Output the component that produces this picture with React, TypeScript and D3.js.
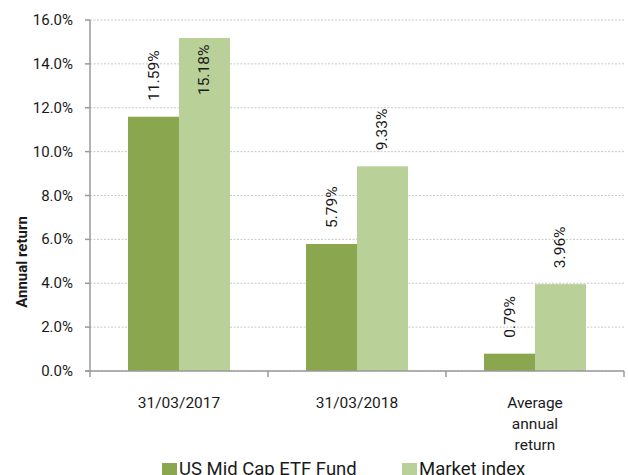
import React from "react";
import * as d3 from "d3";

const categories = ["31/03/2017", "31/03/2018", "Average annual return"];
const categoryLines = [["31/03/2017"], ["31/03/2018"], ["Average", "annual", "return"]];
const seriesNames = ["US Mid Cap ETF Fund", "Market index"];
const fundValues = [11.59, 5.79, 0.79];
const indexValues = [15.18, 9.33, 3.96];
const yTicks = [0, 2, 4, 6, 8, 10, 12, 14, 16];
const colors = ["#8aa64e", "#b9d098"];

const W = 628;
const H = 475;
const left = 90;
const right = 624;
const top = 20;
const bottom = 371;
const font = "Roboto, 'Liberation Sans', Arial, sans-serif";

export default function App() {
  const x = d3.scaleBand<string>().domain(categories).range([left, right]).paddingInner(0).paddingOuter(0);
  const y = d3.scaleLinear().domain([0, 16]).range([bottom, top]);
  const bw = x.bandwidth();
  const barW = bw * 0.2865;
  const series = [fundValues, indexValues];
  const boundaries = [...categories.map((c) => x(c) as number), right];

  return (
    <svg width={W} height={H} style={{ position: "absolute", left: 0, top: 0, background: "#fff" }} fontFamily={font}>
      {yTicks.map((t) => (
        <line key={"g" + t} x1={left} x2={right} y1={y(t)} y2={y(t)} stroke="#c8c8c8" strokeWidth={1} strokeDasharray="2,1.5" />
      ))}
      {categories.map((c, ci) =>
        series.map((vals, si) => {
          const cx = (x(c) as number) + bw / 2;
          const bx = cx - barW + si * barW;
          const v = vals[ci];
          return <rect key={c + si} x={bx} y={y(v)} width={barW} height={y(0) - y(v)} fill={colors[si]} />;
        })
      )}
      {categories.map((c, ci) =>
        series.map((vals, si) => {
          const cx = (x(c) as number) + bw / 2;
          const lx = cx - barW / 2 + si * barW;
          const v = vals[ci];
          const textLen = 47;
          const ly = Math.max(y(v) - 16, top + textLen + 28);
          return (
            <text key={"l" + c + si} transform={`translate(${lx + 5},${ly}) rotate(-90)`} fontSize={15.5} fill="#1a1a1a" textAnchor="start">
              {v.toFixed(2) + "%"}
            </text>
          );
        })
      )}
      <line x1={left} x2={left} y1={top} y2={bottom} stroke="#9a9a9a" strokeWidth={1.5} />
      {yTicks.map((t) => (
        <g key={"t" + t}>
          <line x1={85} x2={left} y1={y(t)} y2={y(t)} stroke="#9a9a9a" strokeWidth={1.5} />
          <text x={73} y={y(t) + 5} textAnchor="end" fontSize={15} fill="#1a1a1a">
            {t.toFixed(1) + "%"}
          </text>
        </g>
      ))}
      <line x1={85} x2={right} y1={bottom} y2={bottom} stroke="#9a9a9a" strokeWidth={1.5} />
      {boundaries.map((b, i) => (
        <line key={"b" + i} x1={b} x2={b} y1={bottom} y2={bottom + 6} stroke="#9a9a9a" strokeWidth={1.5} />
      ))}
      {categories.map((c, ci) => (
        <text key={"x" + c} x={(x(c) as number) + bw / 2} textAnchor="middle" fontSize={15.5} fill="#1a1a1a">
          {categoryLines[ci].map((ln, li) => (
            <tspan key={li} x={(x(c) as number) + bw / 2} y={408 + li * 21}>
              {ln}
            </tspan>
          ))}
        </text>
      ))}
      <text transform={`translate(27,262) rotate(-90)`} textAnchor="middle" fontSize={15} fontWeight="bold" fill="#1a1a1a">
        Annual return
      </text>
      {seriesNames.map((s, i) => {
        const lx = i === 0 ? 162 : 402;
        return (
          <g key={"lg" + i}>
            <rect x={lx} y={463} width={15} height={15} fill={colors[i]} />
            <text x={lx + 17} y={475} fontSize={18.5} fill="#1a1a1a">
              {s}
            </text>
          </g>
        );
      })}
    </svg>
  );
}
